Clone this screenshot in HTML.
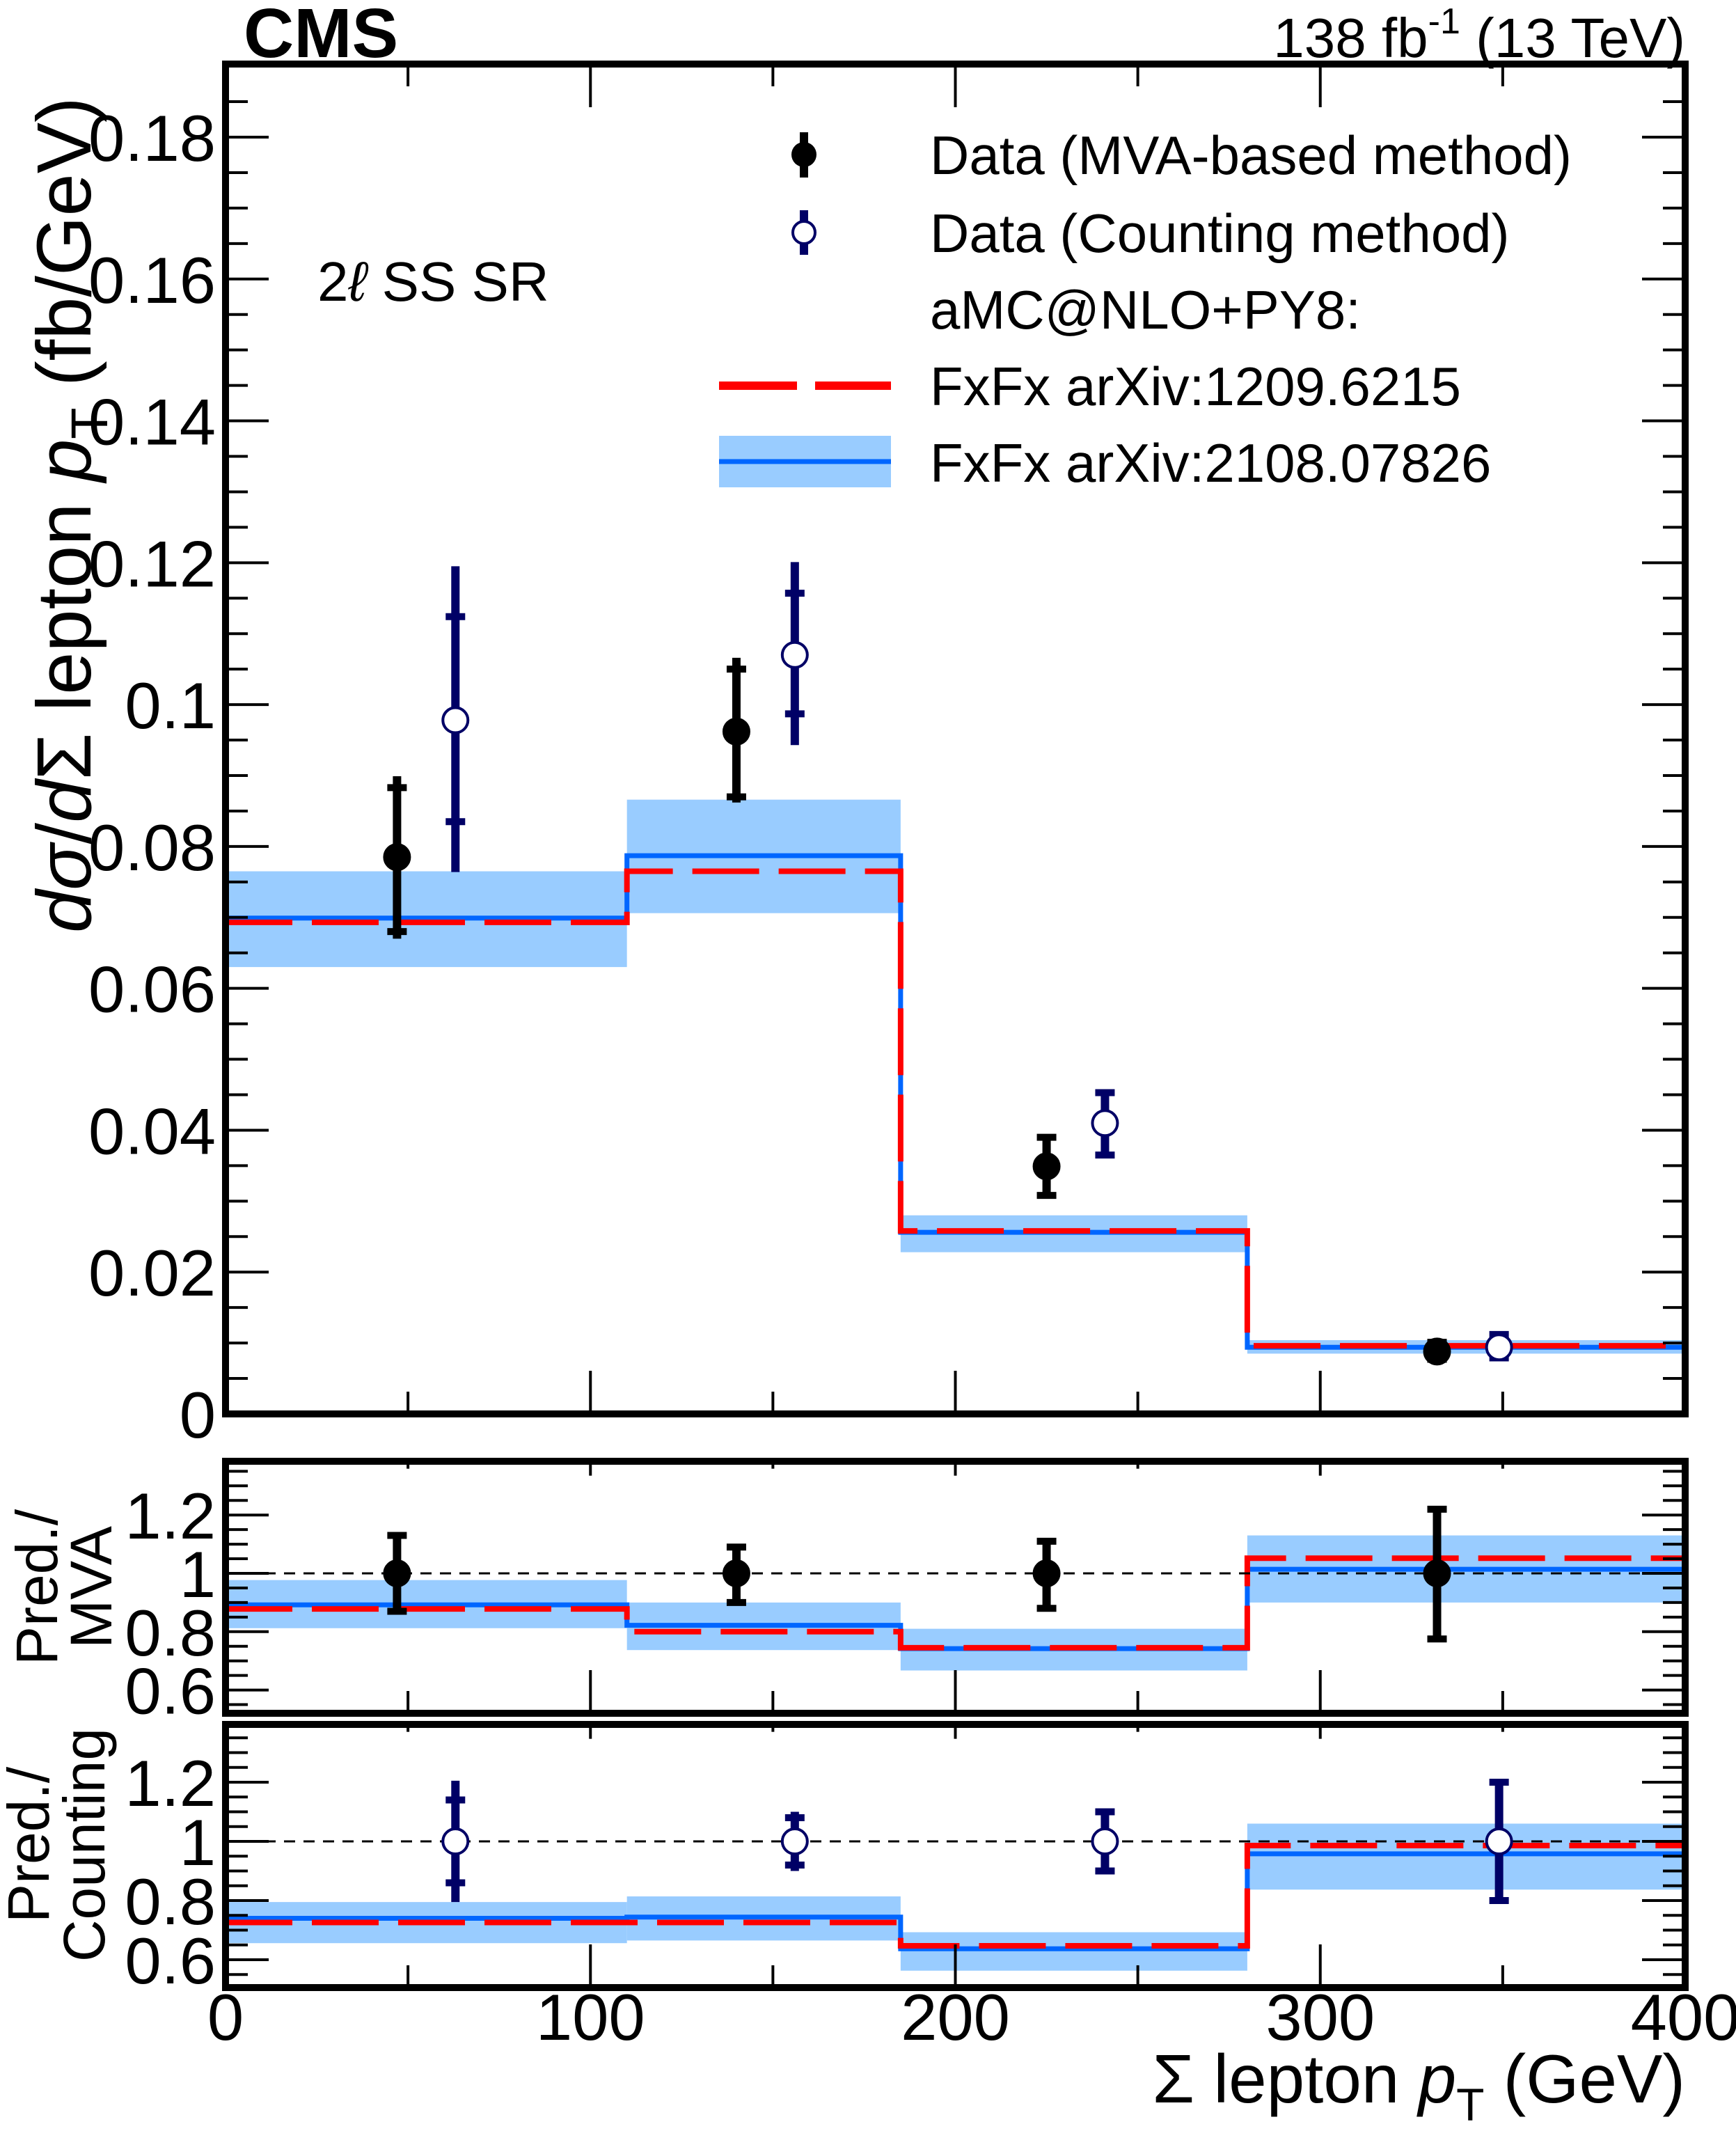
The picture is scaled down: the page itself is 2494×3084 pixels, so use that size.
<!DOCTYPE html>
<html><head><meta charset="utf-8"><style>
html,body{margin:0;padding:0;background:#fff;}
svg{display:block;font-family:"Liberation Sans",sans-serif;}
</style></head><body>
<svg id="chart" width="2494" height="3084" viewBox="0 0 2494 3084" xmlns="http://www.w3.org/2000/svg">
<g id="layer-bands"></g><g id="layer-lines"></g><g id="layer-data"></g><g id="layer-axes"></g><g id="layer-text"></g>
</svg>
<script>
// ---- data ----
const binEdges = [0, 110, 185, 280, 400];
const predA = [0.0693, 0.0765, 0.0258, 0.0096];          // FxFx 1209.6215 (red dashed)
const predB = [0.0699, 0.0787, 0.0256, 0.0094];          // FxFx 2108.07826 (blue)
const predBLo = [0.0630, 0.0706, 0.0228, 0.0085];
const predBHi = [0.0765, 0.0866, 0.0280, 0.0104];
const mvaX = [47, 140, 225, 332];
const mvaY = [0.0785, 0.0962, 0.0349, 0.0088];
const mvaLo = [0.0670, 0.0862, 0.0305, 0.0075];
const mvaHi = [0.0899, 0.1066, 0.0393, 0.0103];
const mvaStatLo = [0.0680, 0.0870, 0.0308, 0.0077];
const mvaStatHi = [0.0883, 0.1050, 0.0390, 0.0101];
const cntX = [63, 156, 241, 349];
const cntY = [0.0978, 0.1070, 0.0410, 0.0094];
const cntLo = [0.0764, 0.0943, 0.0361, 0.0076];
const cntHi = [0.1195, 0.1201, 0.0457, 0.0115];
const cntStatLo = [0.0835, 0.0987, 0.0365, 0.0079];
const cntStatHi = [0.1124, 0.1157, 0.0453, 0.0112];
// ratio MVA panel
const r1A = [0.878, 0.800, 0.745, 1.052];
const r1B = [0.892, 0.822, 0.742, 1.014];
const r1BLo = [0.812, 0.737, 0.667, 0.900];
const r1BHi = [0.977, 0.900, 0.810, 1.130];
const r1PtLo = [0.870, 0.900, 0.880, 0.775];
const r1PtHi = [1.130, 1.090, 1.110, 1.220];
// ratio counting panel
const r2A = [0.726, 0.726, 0.647, 0.986];
const r2B = [0.740, 0.744, 0.637, 0.958];
const r2BLo = [0.656, 0.665, 0.563, 0.837];
const r2BHi = [0.795, 0.814, 0.693, 1.060];
const r2PtLo = [0.795, 0.900, 0.890, 0.790];
const r2PtHi = [1.205, 1.100, 1.110, 1.210];
const r2StatLo = [0.860, 0.920, 0.900, 0.800];
const r2StatHi = [1.140, 1.080, 1.100, 1.200];
const mainTicks = [0, 0.02, 0.04, 0.06, 0.08, 0.1, 0.12, 0.14, 0.16, 0.18];
const mainTickLabels = ["0","0.02","0.04","0.06","0.08","0.1","0.12","0.14","0.16","0.18"];
const ratioTicks = [0.6, 0.8, 1, 1.2];
const ratioTickLabels = ["0.6","0.8","1","1.2"];
const xTicks = [0, 100, 200, 300, 400];
const xTickLabels = ["0","100","200","300","400"];

// ---- geometry ----
const L = 324, R = 2421;
const P = {
  main: {top: 92, bot: 2031, y0: 2031, k: (2031-197)/0.18, v0: 0},
  r1: {top: 2099, bot: 2461, y0: 2260, k: 419, v0: 1},
  r2: {top: 2477, bot: 2855, y0: 2645, k: 425, v0: 1}
};
const NS = "http://www.w3.org/2000/svg";
const X = v => L + (v / 400) * (R - L);
const Y = (p, v) => p.y0 - (v - p.v0) * p.k;
function mk(tag, attrs, parent) {
  const e = document.createElementNS(NS, tag);
  for (const k in attrs) e.setAttribute(k, attrs[k]);
  document.getElementById(parent).appendChild(e);
  return e;
}
const BAND = "#99ccff", BLUE = "#0066ff", RED = "#ff0000", NAVY = "#000066";

function drawModels(p, a, b, lo, hi, key) {
  for (let i = 0; i < 4; i++) {
    const r = mk("rect", {x: X(binEdges[i]), y: Y(p, hi[i]), width: X(binEdges[i+1]) - X(binEdges[i]), height: Y(p, lo[i]) - Y(p, hi[i]), fill: BAND}, "layer-bands");
    
    
  }
  const step = arr => {
    let d = "M" + X(binEdges[0]) + " " + Y(p, arr[0]);
    for (let i = 0; i < 4; i++) {
      d += " L" + X(binEdges[i+1]) + " " + Y(p, arr[i]);
      if (i < 3) d += " L" + X(binEdges[i+1]) + " " + Y(p, arr[i+1]);
    }
    return d;
  };
  const lb = mk("path", {d: step(b), fill: "none", stroke: BLUE, "stroke-width": 7}, "layer-lines");
  
  
  const la = mk("path", {d: step(a), fill: "none", stroke: RED, "stroke-width": 8, "stroke-dasharray": "96 28"}, "layer-lines");
  
  
}
function point(p, x, y, lo, hi, slo, shi, open, name) {
  const col = open ? NAVY : "#000";
  const g = mk("g", {}, "layer-data");
  
  
  const add = (tag, at) => { const e = document.createElementNS(NS, tag); for (const k in at) e.setAttribute(k, at[k]); g.appendChild(e); };
  add("line", {x1: X(x), x2: X(x), y1: Y(p, hi), y2: Y(p, lo), stroke: col, "stroke-width": 12});
  [slo, shi].forEach(v => add("line", {x1: X(x) - 14, x2: X(x) + 14, y1: Y(p, v), y2: Y(p, v), stroke: col, "stroke-width": 10}));
  add("ellipse", {cx: X(x), cy: Y(p, y), rx: 18, ry: 18, fill: open ? "#fff" : "#000", stroke: col, "stroke-width": 4});
}

drawModels(P.main, predA, predB, predBLo, predBHi, "main");
drawModels(P.r1, r1A, r1B, r1BLo, r1BHi, "ratio-mva");
drawModels(P.r2, r2A, r2B, r2BLo, r2BHi, "ratio-counting");

[["r1","ratio-mva-unity-line"],["r2","ratio-counting-unity-line"]].forEach(([k, n]) => {
  const l = mk("line", {x1: L, x2: R, y1: Y(P[k], 1), y2: Y(P[k], 1), stroke: "#000", "stroke-width": 3, "stroke-dasharray": "16 12"}, "layer-lines");
  
  
});

for (let i = 0; i < 4; i++) {
  point(P.main, mvaX[i], mvaY[i], mvaLo[i], mvaHi[i], mvaStatLo[i], mvaStatHi[i], false, "mva-point-" + (i+1));
  point(P.main, cntX[i], cntY[i], cntLo[i], cntHi[i], cntStatLo[i], cntStatHi[i], true, "counting-point-" + (i+1));
  point(P.r1, mvaX[i], 1, r1PtLo[i], r1PtHi[i], r1PtLo[i], r1PtHi[i], false, "ratio-mva-point-" + (i+1));
  point(P.r2, cntX[i], 1, r2PtLo[i], r2PtHi[i], r2StatLo[i], r2StatHi[i], true, "ratio-counting-point-" + (i+1));
}

function frame(p, name, yticks, ylabels, minorStep, vmin, vmax) {
  const f = mk("rect", {x: L, y: p.top, width: R - L, height: p.bot - p.top, fill: "none", stroke: "#000", "stroke-width": 10}, "layer-axes");
  
  
  for (let v = vmin; v <= vmax + 1e-9; v += minorStep) {
    const y = Y(p, v);
    if (y < p.top + 4 || y > p.bot - 4) continue;
    const major = yticks.some(t => Math.abs(t - v) < 1e-6);
    const len = major ? 62 : 32;
    mk("line", {x1: L, x2: L + len, y1: y, y2: y, stroke: "#000", "stroke-width": 4}, "layer-axes");
    mk("line", {x1: R, x2: R - len, y1: y, y2: y, stroke: "#000", "stroke-width": 4}, "layer-axes");
  }
  yticks.forEach((t, i) => {
    const tx = mk("text", {x: L - 14, y: Y(p, t) + 34, "text-anchor": "end", "font-size": 94}, "layer-text");
    tx.textContent = ylabels[i];
    
    
  });
  for (let v = 0; v <= 400; v += 50) {
    const len = v % 100 === 0 ? 62 : 32;
    if (v === 0 || v === 400) continue;
    mk("line", {x1: X(v), x2: X(v), y1: p.bot, y2: p.bot - len, stroke: "#000", "stroke-width": 4}, "layer-axes");
    mk("line", {x1: X(v), x2: X(v), y1: p.top, y2: p.top + (name === "main" ? len : len / 3), stroke: "#000", "stroke-width": 4}, "layer-axes");
  }
}
frame(P.main, "main", mainTicks, mainTickLabels, 0.005, 0, 0.19);
frame(P.r1, "ratio-mva", ratioTicks, ratioTickLabels, 0.05, 0.5, 1.4);
frame(P.r2, "ratio-counting", ratioTicks, ratioTickLabels, 0.05, 0.5, 1.4);

xTicks.forEach((t, i) => {
  const tx = mk("text", {x: X(t), y: 2930, "text-anchor": "middle", "font-size": 94}, "layer-text");
  tx.textContent = xTickLabels[i];
  
  
});
</script>
<svg style="position:absolute;left:0;top:0" width="2494" height="3084" viewBox="0 0 2494 3084" xmlns="http://www.w3.org/2000/svg" font-family="Liberation Sans, sans-serif">
  <text x="350" y="82" font-size="100" font-weight="bold">CMS</text>
  <text x="2421" y="82" font-size="80" text-anchor="end">138 fb<tspan font-size="52" dy="-34">-1</tspan><tspan dy="34"> (13 TeV)</tspan></text>
  <text x="456" y="432" font-size="80">2<tspan font-style="italic">ℓ</tspan> SS SR</text>
  <g font-size="78">
    <g>
      <line x1="1155" x2="1155" y1="190" y2="255" stroke="#000" stroke-width="12"/>
      <circle cx="1155" cy="222" r="18" fill="#000"/>
      <text x="1336" y="250">Data (MVA-based method)</text>
    </g>
    <g>
      <line x1="1155" x2="1155" y1="302" y2="366" stroke="#000066" stroke-width="12"/>
      <circle cx="1155" cy="334" r="16" fill="#fff" stroke="#000066" stroke-width="4"/>
      <text x="1336" y="362">Data (Counting method)</text>
    </g>
    <text x="1336" y="472">aMC@NLO+PY8:</text>
    <g>
      <line x1="1033" x2="1280" y1="554" y2="554" stroke="#ff0000" stroke-width="12" stroke-dasharray="112 26"/>
      <text x="1336" y="582">FxFx arXiv:1209.6215</text>
    </g>
    <g>
      <rect x="1033" y="626" width="247" height="74" fill="#99ccff"/>
      <line x1="1033" x2="1280" y1="663" y2="663" stroke="#0066ff" stroke-width="7"/>
      <text x="1336" y="692">FxFx arXiv:2108.07826</text>
    </g>
  </g>
  <text transform="translate(130,1340) rotate(-90)" font-size="110"><tspan font-style="italic">dσ</tspan>/<tspan font-style="italic">d</tspan>Σ lepton <tspan font-style="italic">p</tspan><tspan font-size="74" dy="24">T</tspan><tspan dy="-24"> (fb/GeV)</tspan></text>
  <text transform="translate(82,2280) rotate(-90)" font-size="84" text-anchor="middle">Pred./</text>
  <text transform="translate(160,2280) rotate(-90)" font-size="84" text-anchor="middle">MVA</text>
  <text transform="translate(70,2650) rotate(-90)" font-size="84" text-anchor="middle">Pred./</text>
  <text transform="translate(150,2650) rotate(-90)" font-size="84" text-anchor="middle">Counting</text>
  <text x="2421" y="3020" font-size="98" text-anchor="end">Σ lepton <tspan font-style="italic">p</tspan><tspan font-size="66" dy="26">T</tspan><tspan dy="-26"> (GeV)</tspan></text>
</svg>
</body></html>
